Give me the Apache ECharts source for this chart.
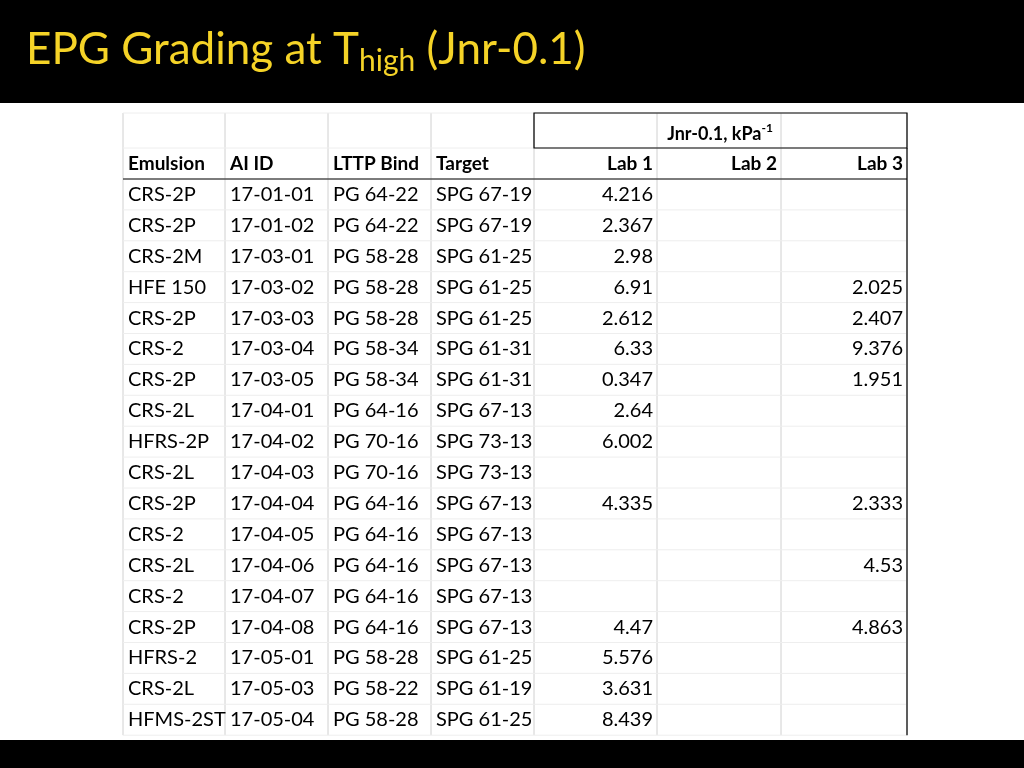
<!DOCTYPE html>
<html>
<head>
<meta charset="utf-8">
<script src="https://cdn.jsdelivr.net/npm/echarts@6/dist/echarts.min.js"></script>
<style>html,body{margin:0;padding:0;background:#fff}#main{width:1024px;height:768px}</style>
</head>
<body>
<div id="main"></div>
<script>
var headers = ['Emulsion', 'AI ID', 'LTTP Bind', 'Target', 'Lab 1', 'Lab 2', 'Lab 3'];
var emulsion = ['CRS-2P','CRS-2P','CRS-2M','HFE 150','CRS-2P','CRS-2','CRS-2P','CRS-2L','HFRS-2P','CRS-2L','CRS-2P','CRS-2','CRS-2L','CRS-2','CRS-2P','HFRS-2','CRS-2L','HFMS-2ST'];
var aiId = ['17-01-01','17-01-02','17-03-01','17-03-02','17-03-03','17-03-04','17-03-05','17-04-01','17-04-02','17-04-03','17-04-04','17-04-05','17-04-06','17-04-07','17-04-08','17-05-01','17-05-03','17-05-04'];
var lttp = ['PG 64-22','PG 64-22','PG 58-28','PG 58-28','PG 58-28','PG 58-34','PG 58-34','PG 64-16','PG 70-16','PG 70-16','PG 64-16','PG 64-16','PG 64-16','PG 64-16','PG 64-16','PG 58-28','PG 58-22','PG 58-28'];
var target = ['SPG 67-19','SPG 67-19','SPG 61-25','SPG 61-25','SPG 61-25','SPG 61-31','SPG 61-31','SPG 67-13','SPG 73-13','SPG 73-13','SPG 67-13','SPG 67-13','SPG 67-13','SPG 67-13','SPG 67-13','SPG 61-25','SPG 61-19','SPG 61-25'];
var lab1 = ['4.216','2.367','2.98','6.91','2.612','6.33','0.347','2.64','6.002','','4.335','','','','4.47','5.576','3.631','8.439'];
var lab2 = ['','','','','','','','','','','','','','','','','',''];
var lab3 = ['','','','2.025','2.407','9.376','1.951','','','','2.333','','4.53','','4.863','','',''];

var myChart = echarts.init(document.getElementById('main'));
var font = 'Lato, "Open Sans", sans-serif';
var colX = [123, 225, 328, 431, 534, 657, 781, 907];
var headTop = 113, headMid = 148, dataTop = 179, rowH = 30.9;
var cols = [emulsion, aiId, lttp, target, lab1, lab2, lab3];
var g = [];

g.push({type: 'rect', shape: {x: 0, y: 0, width: 1024, height: 103}, style: {fill: '#000'}});
g.push({type: 'rect', shape: {x: 0, y: 740, width: 1024, height: 28}, style: {fill: '#000'}});
g.push({type: 'text', x: 26, y: 50, style: {text: '{a|EPG Grading at T}{s|high}{a| (Jnr-0.1)}', verticalAlign: 'middle',
    rich: {a: {fill: '#f5d327', fontSize: 44, fontFamily: font}, s: {fill: '#f5d327', fontSize: 30, fontFamily: font, padding: [22, 0, 0, 0]}}}});

var bottom = dataTop + rowH * emulsion.length;
// grid lines
for (var i = 0; i < colX.length; i++) {
    g.push({type: 'line', shape: {x1: colX[i], y1: headTop, x2: colX[i], y2: bottom}, style: {stroke: '#d0d0d0', lineWidth: 1}});
}
var ys = [headTop, headMid, dataTop];
for (var r = 1; r <= emulsion.length; r++) ys.push(dataTop + rowH * r);
ys.forEach(function (y) {
    g.push({type: 'line', shape: {x1: colX[0], y1: y, x2: colX[7], y2: y}, style: {stroke: '#eeeeee', lineWidth: 1}});
});
// black outlines
g.push({type: 'rect', shape: {x: 534, y: headTop, width: 373, height: headMid - headTop}, style: {fill: 'none', stroke: '#000', lineWidth: 1.2}});
g.push({type: 'line', shape: {x1: 907, y1: headMid, x2: 907, y2: bottom}, style: {stroke: '#000', lineWidth: 1.2}});
g.push({type: 'line', shape: {x1: 123, y1: dataTop, x2: 907, y2: dataTop}, style: {stroke: '#000', lineWidth: 1}});

g.push({type: 'text', x: 720, y: 134, style: {text: '{b|Jnr-0.1, kPa}{s|-1}', align: 'center', verticalAlign: 'middle',
    rich: {b: {fontSize: 18, fontWeight: 'bold', fontFamily: font, fill: '#000'}, s: {fontSize: 12, fontWeight: 'bold', fontFamily: font, fill: '#000', padding: [0, 0, 12, 0]}}}});

headers.forEach(function (h, c) {
    var right = c >= 4;
    g.push({type: 'text', x: right ? colX[c + 1] - 4 : colX[c] + 5, y: 164,
        style: {text: h, align: right ? 'right' : 'left', verticalAlign: 'middle', fontSize: 19, fontWeight: 'bold', fontFamily: font, fill: '#000'}});
});
cols.forEach(function (arr, c) {
    var right = c >= 4;
    arr.forEach(function (v, r) {
        if (!v) return;
        g.push({type: 'text', x: right ? colX[c + 1] - 4 : colX[c] + 5, y: dataTop + rowH * (r + 0.5),
            style: {text: v, align: right ? 'right' : 'left', verticalAlign: 'middle', fontSize: 20, fontFamily: font, fill: '#000'}});
    });
});

option = {
    backgroundColor: '#fff',
    graphic: g
};
myChart.setOption(option);
</script>
</body>
</html>
